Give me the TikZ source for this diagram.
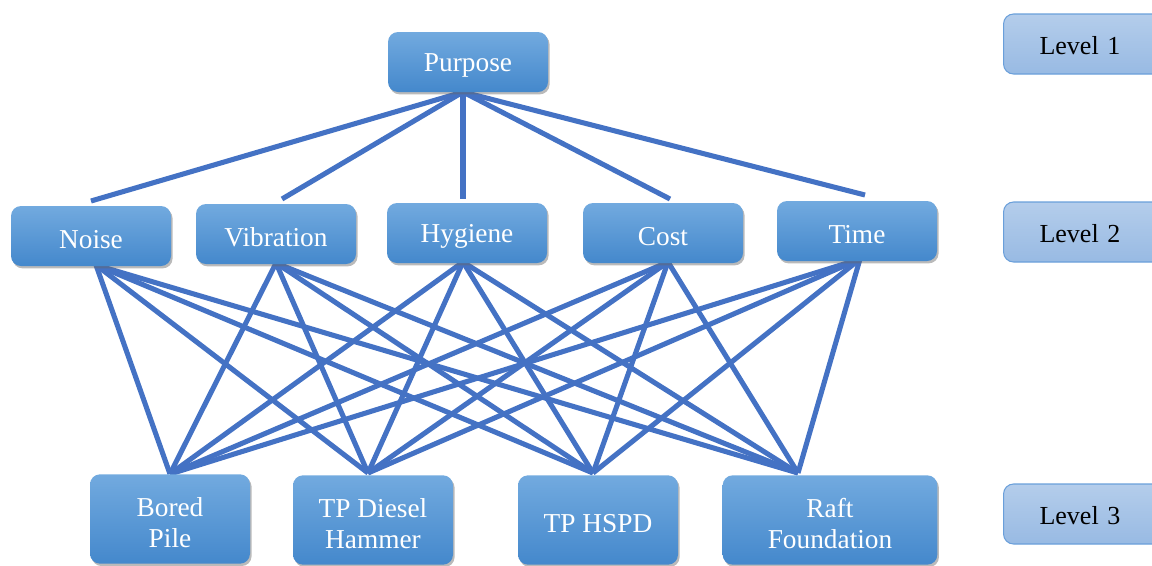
\documentclass[tikz,border=0pt]{standalone}
\usepackage{fontspec}
\setmainfont{Liberation Serif}
\usetikzlibrary{shadows}
\definecolor{boxtop}{HTML}{72AADF}
\definecolor{boxbot}{HTML}{4488CC}
\definecolor{lvtop}{HTML}{B4CDEB}
\definecolor{lvbot}{HTML}{98BAE3}
\definecolor{lvline}{HTML}{6A9FDA}
\definecolor{conn}{HTML}{4472C4}
\newcommand\dnt[1]{\raisebox{-2.5pt}[\height][\depth]{#1}}
\newcommand\dnl[1]{\raisebox{-1pt}[\height][\depth]{#1}}
\tikzset{
  mainbox/.style={rounded corners=7.5pt, top color=boxtop, bottom color=boxbot,
    draw=none, text=white, align=center, minimum width=120pt,
    font=\fontsize{20.5}{23.5}\selectfont,
    drop shadow={shadow xshift=1.2pt, shadow yshift=-1.8pt, opacity=0.45, fill=black!60}},
  lvbox/.style={rounded corners=7.5pt, top color=lvtop, bottom color=lvbot,
    draw=lvline, line width=0.8pt, text=black, minimum width=120pt, minimum height=45pt,
    font=\fontsize{19.5}{22}\selectfont, text width=120pt, align=center},
  link/.style={draw=conn, line width=3.8pt}
}
\begin{document}
\begin{tikzpicture}[x=0.75pt,y=-0.75pt]
\useasboundingbox (0,0) rectangle (1152,565);
% connection points
\coordinate (pB) at (463,92);
\coordinate (nT) at (91,201);  \coordinate (nB) at (96,265);
\coordinate (vT) at (282,199); \coordinate (vB) at (276,263);
\coordinate (hT) at (463,199); \coordinate (hB) at (463,262);
\coordinate (cT) at (670,199); \coordinate (cB) at (668,262);
\coordinate (tT) at (865,195); \coordinate (tB) at (860,259);
\coordinate (bT) at (170,474); \coordinate (dT) at (368,473);
\coordinate (sT) at (593,473); \coordinate (rT) at (798,473);
% links level 1 - level 2
\foreach \a in {nT,vT,hT,cT,tT} \draw[link] (pB) -- (\a);
% links level 2 - level 3
\foreach \a in {nB,vB,hB,cB,tB}
  \foreach \b in {bT,dT,sT,rT}
    \draw[link] (\a) -- (\b);
% boxes
\node[mainbox, minimum height=45pt] (purpose) at (468,62) {\dnt{Purpose}};
\node[mainbox, minimum height=45pt] (noise) at (91,236) {\dnt{Noise}};
\node[mainbox, minimum height=45pt] (vibration) at (276,234) {\dnt{Vibration}};
\node[mainbox, minimum height=45pt] (hygiene) at (467,233) {\dnt{Hygiene}};
\node[mainbox, minimum height=45pt] (cost) at (663,233) {\dnt{Cost}};
\node[mainbox, minimum height=45pt] (time) at (857,231) {\dnt{Time}};
\node[mainbox, minimum height=67pt] (bored) at (170,519) {\dnt{Bored}\\\dnt{Pile}};
\node[mainbox, minimum height=67pt] (diesel) at (373,520) {\dnt{TP Diesel}\\\dnt{Hammer}};
\node[mainbox, minimum height=67pt] (hspd) at (598,520) {\dnt{TP HSPD}};
\node[mainbox, minimum height=67pt, minimum width=161pt] (raft) at (830,520) {\dnt{Raft}\\\dnt{Foundation}};
% level labels
\node[lvbox, anchor=west] (l1) at (1003,44) {\hspace*{-6pt}\dnl{Level 1}\hspace*{6pt}};
\node[lvbox, anchor=west] (l2) at (1003,232) {\hspace*{-6pt}\dnl{Level 2}\hspace*{6pt}};
\node[lvbox, anchor=west] (l3) at (1003,514) {\hspace*{-6pt}\dnl{Level 3}\hspace*{6pt}};
\end{tikzpicture}
\end{document}
